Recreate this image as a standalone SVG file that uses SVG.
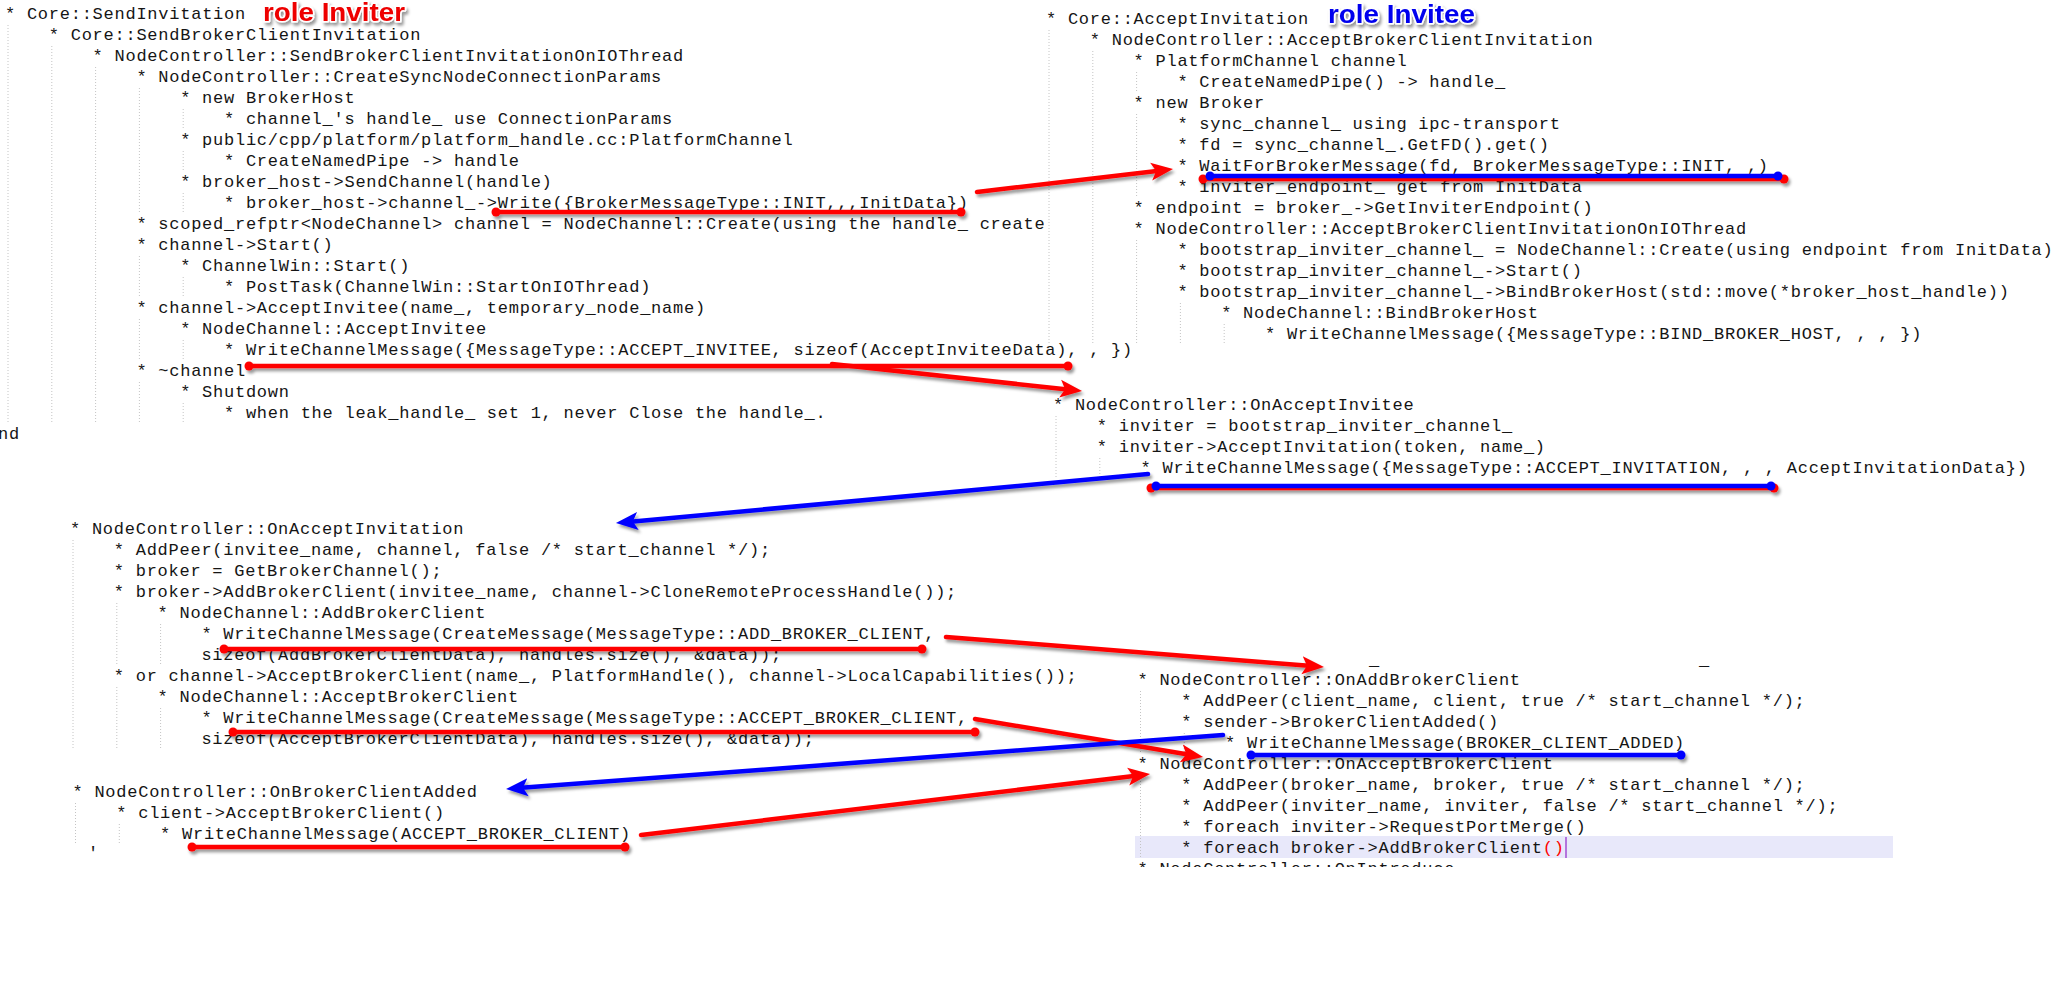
<svg xmlns="http://www.w3.org/2000/svg" width="2066" height="982" viewBox="0 0 2066 982">
<style>
.t{font-family:"Liberation Mono","Courier New",monospace;font-size:17px;letter-spacing:0.75px;fill:#151515;white-space:pre}
.g{stroke:#c4c4c4;stroke-width:1;stroke-dasharray:1 2;fill:none}
.r{stroke:#ff0000;stroke-width:4.5;fill:none;stroke-linecap:round}
.b{stroke:#0000ff;stroke-width:4.5;fill:none;stroke-linecap:round}
.rd{fill:#ff0000}
.bd{fill:#0000ff}
.role{font-family:"Liberation Sans",Arial,sans-serif;font-weight:bold;font-size:26px;stroke:#fff;stroke-width:3;paint-order:stroke;stroke-linejoin:round}
</style>
<defs>
<filter id="sh" x="-10%" y="-50%" width="120%" height="200%">
<feDropShadow dx="2" dy="3" stdDeviation="1.8" flood-color="#000" flood-opacity="0.4"/>
</filter>
<marker id="ar" markerUnits="userSpaceOnUse" viewBox="0 0 24 20" markerWidth="24" markerHeight="20" refX="10" refY="10" orient="auto">
<path d="M0,1 L22,10 L0,19 L5,10 Z" fill="#ff0000"/>
</marker>
<marker id="ab" markerUnits="userSpaceOnUse" viewBox="0 0 24 20" markerWidth="24" markerHeight="20" refX="10" refY="10" orient="auto">
<path d="M0,1 L22,10 L0,19 L5,10 Z" fill="#0000ff"/>
</marker>
<clipPath id="clipA10"><rect x="0" y="200" width="1044" height="40"/></clipPath>
<clipPath id="clipF9"><rect x="1100" y="855" width="600" height="12"/></clipPath>
</defs>
<rect width="2066" height="982" fill="#fff"/>

<g id="inviter-send-invitation">
<path class="g" d="M8,25V424 M51.8,46V424 M95.6,67V424 M139.4,88V214 M183.2,109V130 M183.2,151V172 M183.2,193V214 M139.4,256V298 M183.2,277V298 M139.4,319V361 M183.2,340V361 M139.4,382V424 M183.2,403V424"/>
<text class="t" x="5" y="19">* Core::SendInvitation</text>
<text class="t" x="48.8" y="40">* Core::SendBrokerClientInvitation</text>
<text class="t" x="92.6" y="61">* NodeController::SendBrokerClientInvitationOnIOThread</text>
<text class="t" x="136.4" y="82">* NodeController::CreateSyncNodeConnectionParams</text>
<text class="t" x="180.2" y="103">* new BrokerHost</text>
<text class="t" x="224" y="124">* channel_'s handle_ use ConnectionParams</text>
<text class="t" x="180.2" y="145">* public/cpp/platform/platform_handle.cc:PlatformChannel</text>
<text class="t" x="224" y="166">* CreateNamedPipe -&gt; handle</text>
<text class="t" x="180.2" y="187">* broker_host-&gt;SendChannel(handle)</text>
<text class="t" x="224" y="208">* broker_host-&gt;channel_-&gt;Write({BrokerMessageType::INIT,,,InitData})</text>
<text class="t" x="136.4" y="229" clip-path="url(#clipA10)">* scoped_refptr&lt;NodeChannel&gt; channel = NodeChannel::Create(using the handle_ created)</text>
<text class="t" x="136.4" y="250">* channel-&gt;Start()</text>
<text class="t" x="180.2" y="271">* ChannelWin::Start()</text>
<text class="t" x="224" y="292">* PostTask(ChannelWin::StartOnIOThread)</text>
<text class="t" x="136.4" y="313">* channel-&gt;AcceptInvitee(name_, temporary_node_name)</text>
<text class="t" x="180.2" y="334">* NodeChannel::AcceptInvitee</text>
<text class="t" x="224" y="355">* WriteChannelMessage({MessageType::ACCEPT_INVITEE, sizeof(AcceptInviteeData), , })</text>
<text class="t" x="136.4" y="376">* ~channel</text>
<text class="t" x="180.2" y="397">* Shutdown</text>
<text class="t" x="224" y="418">* when the leak_handle_ set 1, never Close the handle_.</text>
<text class="t" x="-2" y="439">nd</text>
<text class="role" x="263" y="21" fill="#ee0000" textLength="142" lengthAdjust="spacingAndGlyphs" filter="url(#sh)">role Inviter</text>
</g>

<g id="invitee-accept-invitation">
<path class="g" d="M1049,30V345 M1092.8,51V345 M1136.6,72V93 M1136.6,114V198 M1136.6,240V345 M1180.4,303V345 M1224.2,324V345"/>
<text class="t" x="1046" y="24">* Core::AcceptInvitation</text>
<text class="t" x="1089.8" y="45">* NodeController::AcceptBrokerClientInvitation</text>
<text class="t" x="1133.6" y="66">* PlatformChannel channel</text>
<text class="t" x="1177.4" y="87">* CreateNamedPipe() -&gt; handle_</text>
<text class="t" x="1133.6" y="108">* new Broker</text>
<text class="t" x="1177.4" y="129">* sync_channel_ using ipc-transport</text>
<text class="t" x="1177.4" y="150">* fd = sync_channel_.GetFD().get()</text>
<text class="t" x="1177.4" y="171">* WaitForBrokerMessage(fd, BrokerMessageType::INIT, ,)</text>
<text class="t" x="1177.4" y="192">* inviter_endpoint_ get from InitData</text>
<text class="t" x="1133.6" y="213">* endpoint = broker_-&gt;GetInviterEndpoint()</text>
<text class="t" x="1133.6" y="234">* NodeController::AcceptBrokerClientInvitationOnIOThread</text>
<text class="t" x="1177.4" y="255">* bootstrap_inviter_channel_ = NodeChannel::Create(using endpoint from InitData)</text>
<text class="t" x="1177.4" y="276">* bootstrap_inviter_channel_-&gt;Start()</text>
<text class="t" x="1177.4" y="297">* bootstrap_inviter_channel_-&gt;BindBrokerHost(std::move(*broker_host_handle))</text>
<text class="t" x="1221.2" y="318">* NodeChannel::BindBrokerHost</text>
<text class="t" x="1265" y="339">* WriteChannelMessage({MessageType::BIND_BROKER_HOST, , , })</text>
<text class="role" x="1328" y="23" fill="#0000ee" textLength="147" lengthAdjust="spacingAndGlyphs" filter="url(#sh)">role Invitee</text>
</g>

<g id="on-accept-invitee">
<path class="g" d="M1056,416V479 M1099.8,458V479"/>
<text class="t" x="1053" y="410">* NodeController::OnAcceptInvitee</text>
<text class="t" x="1096.8" y="431">* inviter = bootstrap_inviter_channel_</text>
<text class="t" x="1096.8" y="452">* inviter-&gt;AcceptInvitation(token, name_)</text>
<text class="t" x="1140.6" y="473">* WriteChannelMessage({MessageType::ACCEPT_INVITATION, , , AcceptInvitationData})</text>
</g>

<g id="on-accept-invitation">
<path class="g" d="M73,540V750 M116.8,603V666 M160.6,624V666 M116.8,687V750 M160.6,708V750"/>
<text class="t" x="70" y="534">* NodeController::OnAcceptInvitation</text>
<text class="t" x="113.8" y="555">* AddPeer(invitee_name, channel, false /* start_channel */);</text>
<text class="t" x="113.8" y="576">* broker = GetBrokerChannel();</text>
<text class="t" x="113.8" y="597">* broker-&gt;AddBrokerClient(invitee_name, channel-&gt;CloneRemoteProcessHandle());</text>
<text class="t" x="157.6" y="618">* NodeChannel::AddBrokerClient</text>
<text class="t" x="201.4" y="639">* WriteChannelMessage(CreateMessage(MessageType::ADD_BROKER_CLIENT,</text>
<text class="t" x="201.4" y="660">sizeof(AddBrokerClientData), handles.size(), &amp;data));</text>
<text class="t" x="113.8" y="681">* or channel-&gt;AcceptBrokerClient(name_, PlatformHandle(), channel-&gt;LocalCapabilities());</text>
<text class="t" x="157.6" y="702">* NodeChannel::AcceptBrokerClient</text>
<text class="t" x="201.4" y="723">* WriteChannelMessage(CreateMessage(MessageType::ACCEPT_BROKER_CLIENT,</text>
<text class="t" x="201.4" y="744">sizeof(AcceptBrokerClientData), handles.size(), &amp;data));</text>
</g>

<g id="on-broker-client-added">
<path class="g" d="M75.5,803V845 M119.3,824V845"/>
<text class="t" x="72.5" y="797">* NodeController::OnBrokerClientAdded</text>
<text class="t" x="116.3" y="818">* client-&gt;AcceptBrokerClient()</text>
<text class="t" x="160.1" y="839">* WriteChannelMessage(ACCEPT_BROKER_CLIENT)</text>
<text class="t" x="88" y="858">'</text>
</g>

<g id="on-add-broker-client">
<rect x="1135" y="836" width="758" height="22" fill="#e8e8fa"/>
<path class="g" d="M1140.5,691V754 M1184.3,733V754 M1140.5,775V859"/>
<text class="t" x="1369" y="665">_</text>
<text class="t" x="1699" y="665">_</text>
<text class="t" x="1137.5" y="685">* NodeController::OnAddBrokerClient</text>
<text class="t" x="1181.3" y="706">* AddPeer(client_name, client, true /* start_channel */);</text>
<text class="t" x="1181.3" y="727">* sender-&gt;BrokerClientAdded()</text>
<text class="t" x="1225.1" y="748">* WriteChannelMessage(BROKER_CLIENT_ADDED)</text>
<text class="t" x="1137.5" y="769">* NodeController::OnAcceptBrokerClient</text>
<text class="t" x="1181.3" y="790">* AddPeer(broker_name, broker, true /* start_channel */);</text>
<text class="t" x="1181.3" y="811">* AddPeer(inviter_name, inviter, false /* start_channel */);</text>
<text class="t" x="1181.3" y="832">* foreach inviter-&gt;RequestPortMerge()</text>
<text class="t" x="1181.3" y="853">* foreach broker-&gt;AddBrokerClient<tspan fill="#ff0000">()</tspan></text>
<line x1="1566" y1="837" x2="1566" y2="858" stroke="#8000c0" stroke-width="1"/>
<text class="t" x="1137.5" y="874" clip-path="url(#clipF9)">* NodeController::OnIntroduce</text>
</g>

<g id="connectors" filter="url(#sh)">
<line class="r" x1="496" y1="212" x2="961" y2="212"/>
<circle class="rd" cx="496" cy="212" r="4.5"/><circle class="rd" cx="961" cy="212" r="4.5"/>
<line class="r" x1="977" y1="192" x2="1161.1" y2="170.4" marker-end="url(#ar)"/>

<line class="r" x1="1203" y1="179" x2="1784" y2="179"/>
<circle class="rd" cx="1203" cy="179" r="4.5"/><circle class="rd" cx="1784" cy="179" r="4.5"/>
<line class="b" x1="1210" y1="176" x2="1778" y2="176"/>
<circle class="bd" cx="1210" cy="176" r="4.5"/><circle class="bd" cx="1778" cy="176" r="4.5"/>

<line class="r" x1="249" y1="366" x2="1068" y2="366"/>
<circle class="rd" cx="249" cy="366" r="4.5"/><circle class="rd" cx="1068" cy="366" r="4.5"/>
<line class="r" x1="832" y1="364" x2="1070.1" y2="389.7" marker-end="url(#ar)"/>

<line class="r" x1="1151" y1="488" x2="1774" y2="488"/>
<circle class="rd" cx="1151" cy="488" r="4.5"/><circle class="rd" cx="1774" cy="488" r="4.5"/>
<line class="b" x1="1156" y1="486" x2="1771" y2="486"/>
<circle class="bd" cx="1156" cy="486" r="4.5"/><circle class="bd" cx="1771" cy="486" r="4.5"/>
<line class="b" x1="1148" y1="474" x2="627.9" y2="521.9" marker-end="url(#ab)"/>

<line class="r" x1="224" y1="649" x2="922" y2="649"/>
<circle class="rd" cx="224" cy="649" r="4.5"/><circle class="rd" cx="922" cy="649" r="4.5"/>
<line class="r" x1="946" y1="637" x2="1312" y2="666.05" marker-end="url(#ar)"/>

<line class="r" x1="233" y1="732" x2="975" y2="732"/>
<circle class="rd" cx="233" cy="732" r="4.5"/><circle class="rd" cx="975" cy="732" r="4.5"/>
<line class="r" x1="975" y1="719" x2="1191.2" y2="755" marker-end="url(#ar)"/>

<line class="b" x1="1251" y1="755" x2="1681" y2="755"/>
<circle class="bd" cx="1251" cy="755" r="4.5"/><circle class="bd" cx="1681" cy="755" r="4.5"/>
<line class="b" x1="1223" y1="735" x2="518" y2="788.1" marker-end="url(#ab)"/>

<line class="r" x1="192" y1="847" x2="625" y2="847"/>
<circle class="rd" cx="192" cy="847" r="4.5"/><circle class="rd" cx="625" cy="847" r="4.5"/>
<line class="r" x1="641" y1="835" x2="1138.1" y2="775.4" marker-end="url(#ar)"/>
</g>
</svg>
